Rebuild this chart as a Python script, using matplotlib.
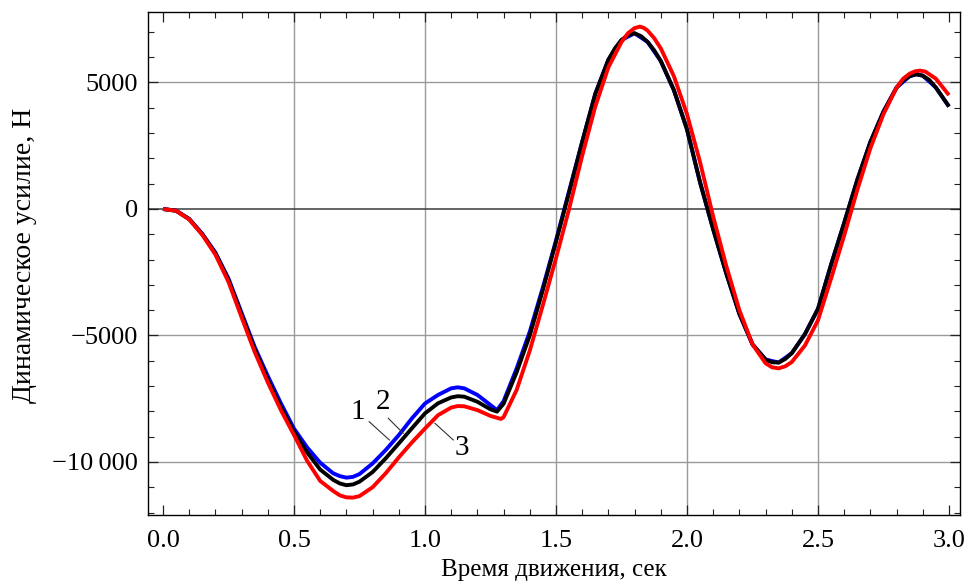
import numpy as np
import matplotlib.pyplot as plt
from matplotlib.ticker import MultipleLocator

plt.rcParams['font.family'] = ['Liberation Serif', 'DejaVu Serif']

# curve 2 (black): time, s / force, N
t_black = [0.00, 0.05, 0.10, 0.15, 0.20, 0.25, 0.30, 0.35, 0.40, 0.45,
           0.50, 0.55, 0.60, 0.65, 0.675, 0.70, 0.725, 0.75, 0.80, 0.85,
           0.90, 0.95, 1.00, 1.05, 1.10, 1.125, 1.15, 1.20, 1.25, 1.275,
           1.30, 1.35, 1.40, 1.45, 1.50, 1.55, 1.60, 1.65, 1.70, 1.725,
           1.75, 1.775, 1.80, 1.825, 1.85, 1.875, 1.90, 1.95, 2.00, 2.05,
           2.10, 2.15, 2.20, 2.25, 2.30, 2.325, 2.35, 2.375, 2.40, 2.45,
           2.50, 2.55, 2.60, 2.65, 2.70, 2.75, 2.80, 2.825, 2.85, 2.875,
           2.90, 2.925, 2.95, 3.00]
f_black = [0, -70, -400, -1000, -1750, -2800, -4180, -5540, -6740, -7830,
           -8800, -9620, -10300, -10710, -10850, -10920, -10890, -10780, -10400, -9860,
           -9270, -8670, -8080, -7680, -7450, -7400, -7420, -7620, -7920, -8010,
           -7700, -6450, -5000, -3200, -1300, 650, 2650, 4550, 5900, 6350,
           6680, 6880, 6945, 6830, 6600, 6270, 5850, 4700, 3150, 1050,
           -800, -2550, -4150, -5350, -5950, -6060, -6070, -5930, -5700, -4950,
           -3950, -2200, -550, 1150, 2650, 3850, 4800, 5080, 5250, 5325,
           5270, 5100, 4800, 4050]

# curve 1 (blue)
t_blue = [0.00, 0.05, 0.10, 0.15, 0.20, 0.25, 0.30, 0.35, 0.40, 0.45,
          0.50, 0.55, 0.60, 0.65, 0.675, 0.70, 0.725, 0.75, 0.80, 0.85,
          0.90, 0.95, 1.00, 1.05, 1.10, 1.125, 1.15, 1.20, 1.25, 1.275,
          1.30, 1.35, 1.40, 1.45, 1.50, 1.55, 1.60, 1.65, 1.70, 1.75,
          1.80, 1.85, 1.90, 1.95, 2.00, 2.05, 2.10, 2.15, 2.20, 2.25,
          2.30, 2.35, 2.40, 2.45, 2.50, 2.55, 2.60, 2.65, 2.70, 2.75,
          2.80, 2.85, 2.875, 2.90, 2.95, 3.00]
f_blue = [0, -65, -390, -980, -1720, -2750, -4100, -5450, -6600, -7680,
          -8680, -9420, -10030, -10450, -10560, -10620, -10590, -10480, -10060, -9530,
          -8940, -8280, -7690, -7350, -7090, -7050, -7090, -7350, -7750, -7950,
          -7600, -6300, -4850, -3100, -1250, 700, 2650, 4550, 5900, 6680,
          6945, 6600, 5850, 4700, 3150, 1050, -800, -2550, -4150, -5350,
          -5950, -6070, -5700, -4950, -3950, -2200, -550, 1150, 2650, 3850,
          4800, 5250, 5325, 5270, 4800, 4050]

# curve 3 (red)
t_red = [0.00, 0.05, 0.10, 0.15, 0.20, 0.25, 0.30, 0.35, 0.40, 0.45,
         0.50, 0.55, 0.60, 0.65, 0.675, 0.70, 0.725, 0.75, 0.80, 0.85,
         0.90, 0.95, 1.00, 1.05, 1.10, 1.125, 1.15, 1.20, 1.25, 1.29,
         1.30, 1.35, 1.40, 1.45, 1.50, 1.55, 1.60, 1.65, 1.70, 1.75,
         1.775, 1.80, 1.82, 1.835, 1.85, 1.875, 1.90, 1.95, 2.00, 2.05,
         2.10, 2.15, 2.20, 2.25, 2.30, 2.325, 2.35, 2.375, 2.40, 2.45,
         2.50, 2.55, 2.60, 2.65, 2.70, 2.75, 2.80, 2.825, 2.85, 2.87,
         2.89, 2.91, 2.95, 3.00]
f_red = [0, -70, -410, -1020, -1800, -2880, -4280, -5650, -6850, -7950,
         -8930, -9950, -10750, -11150, -11320, -11400, -11410, -11350, -11000, -10450,
         -9820, -9230, -8680, -8150, -7850, -7790, -7800, -7950, -8180, -8300,
         -8230, -7150, -5600, -3800, -1950, 0, 2100, 4050, 5600, 6600,
         6950, 7150, 7210, 7160, 7050, 6750, 6350, 5250, 3750, 1850,
         -300, -2250, -4000, -5350, -6100, -6260, -6300, -6220, -6050, -5400,
         -4400, -2750, -1050, 750, 2400, 3750, 4800, 5150, 5350, 5440,
         5470, 5430, 5150, 4500]

x_ticks = [0.0, 0.5, 1.0, 1.5, 2.0, 2.5, 3.0]
x_labels = ['0.0', '0.5', '1.0', '1.5', '2.0', '2.5', '3.0']
y_ticks = [-10000, -5000, 0, 5000]
y_labels = ['\u221210\u2009000', '\u22125000', '0', '5000']

fig = plt.figure(figsize=(9.65, 5.85), dpi=100)
ax = fig.add_axes([0.1534, 0.1197, 0.8414, 0.8598])

# grid
for gx in [0.5, 1.0, 1.5, 2.0, 2.5]:
    ax.axvline(gx, color='#9a9a9a', lw=1.0, zorder=1)
for gy in [-10000, -5000, 5000]:
    ax.axhline(gy, color='#9a9a9a', lw=1.0, zorder=1)
ax.axhline(0, color='#3a3a3a', lw=1.1, zorder=1)

ax.plot(t_blue, f_blue, color='#0000ff', lw=2.8, zorder=3, solid_capstyle='butt')
ax.plot(t_black, f_black, color='black', lw=2.8, zorder=4, solid_capstyle='butt')
ax.plot(t_red, f_red, color='#ff0000', lw=2.8, zorder=5, solid_capstyle='butt')

# curve labels with leader lines
ax.plot([0.787, 0.864], [-8408, -9131], color='#333333', lw=0.8, zorder=6)
ax.plot([0.860, 0.917], [-8274, -8867], color='#333333', lw=0.8, zorder=6)
ax.plot([1.038, 1.108], [-8471, -9131], color='#333333', lw=0.8, zorder=6)
ax.text(0.745, -8013, '1', fontsize=21, ha='center', va='center', zorder=7)
ax.text(0.841, -7617, '2', fontsize=21, ha='center', va='center', zorder=7)
ax.text(1.140, -9460, '3', fontsize=21, ha='center', va='center', zorder=7)

ax.set_xlim(-0.057, 3.042)
ax.set_ylim(-12096, 7787)
ax.set_xticks(x_ticks)
ax.set_xticklabels(x_labels)
ax.set_yticks(y_ticks)
ax.set_yticklabels(y_labels)
ax.xaxis.set_minor_locator(MultipleLocator(0.1))
ax.yaxis.set_minor_locator(MultipleLocator(1000))
ax.tick_params(which='both', direction='in', top=True, right=True,
               labelsize=19, color='#222222')
ax.tick_params(which='major', length=7, width=0.9)
ax.tick_params(which='minor', length=4, width=0.8)
ax.tick_params(axis='x', which='major', pad=11)
ax.tick_params(axis='y', which='major', pad=7)
for s in ax.spines.values():
    s.set_linewidth(1.0)

ax.set_xlabel('Время движения, сек', fontsize=18)
ax.xaxis.set_label_coords(0.5, -0.088)
fig.text(25 / 965, 1 - 255 / 585, 'Динамическое усилие, Н', fontsize=20,
         rotation=90, ha='center', va='center')

fig.savefig('out.png', dpi=100)
